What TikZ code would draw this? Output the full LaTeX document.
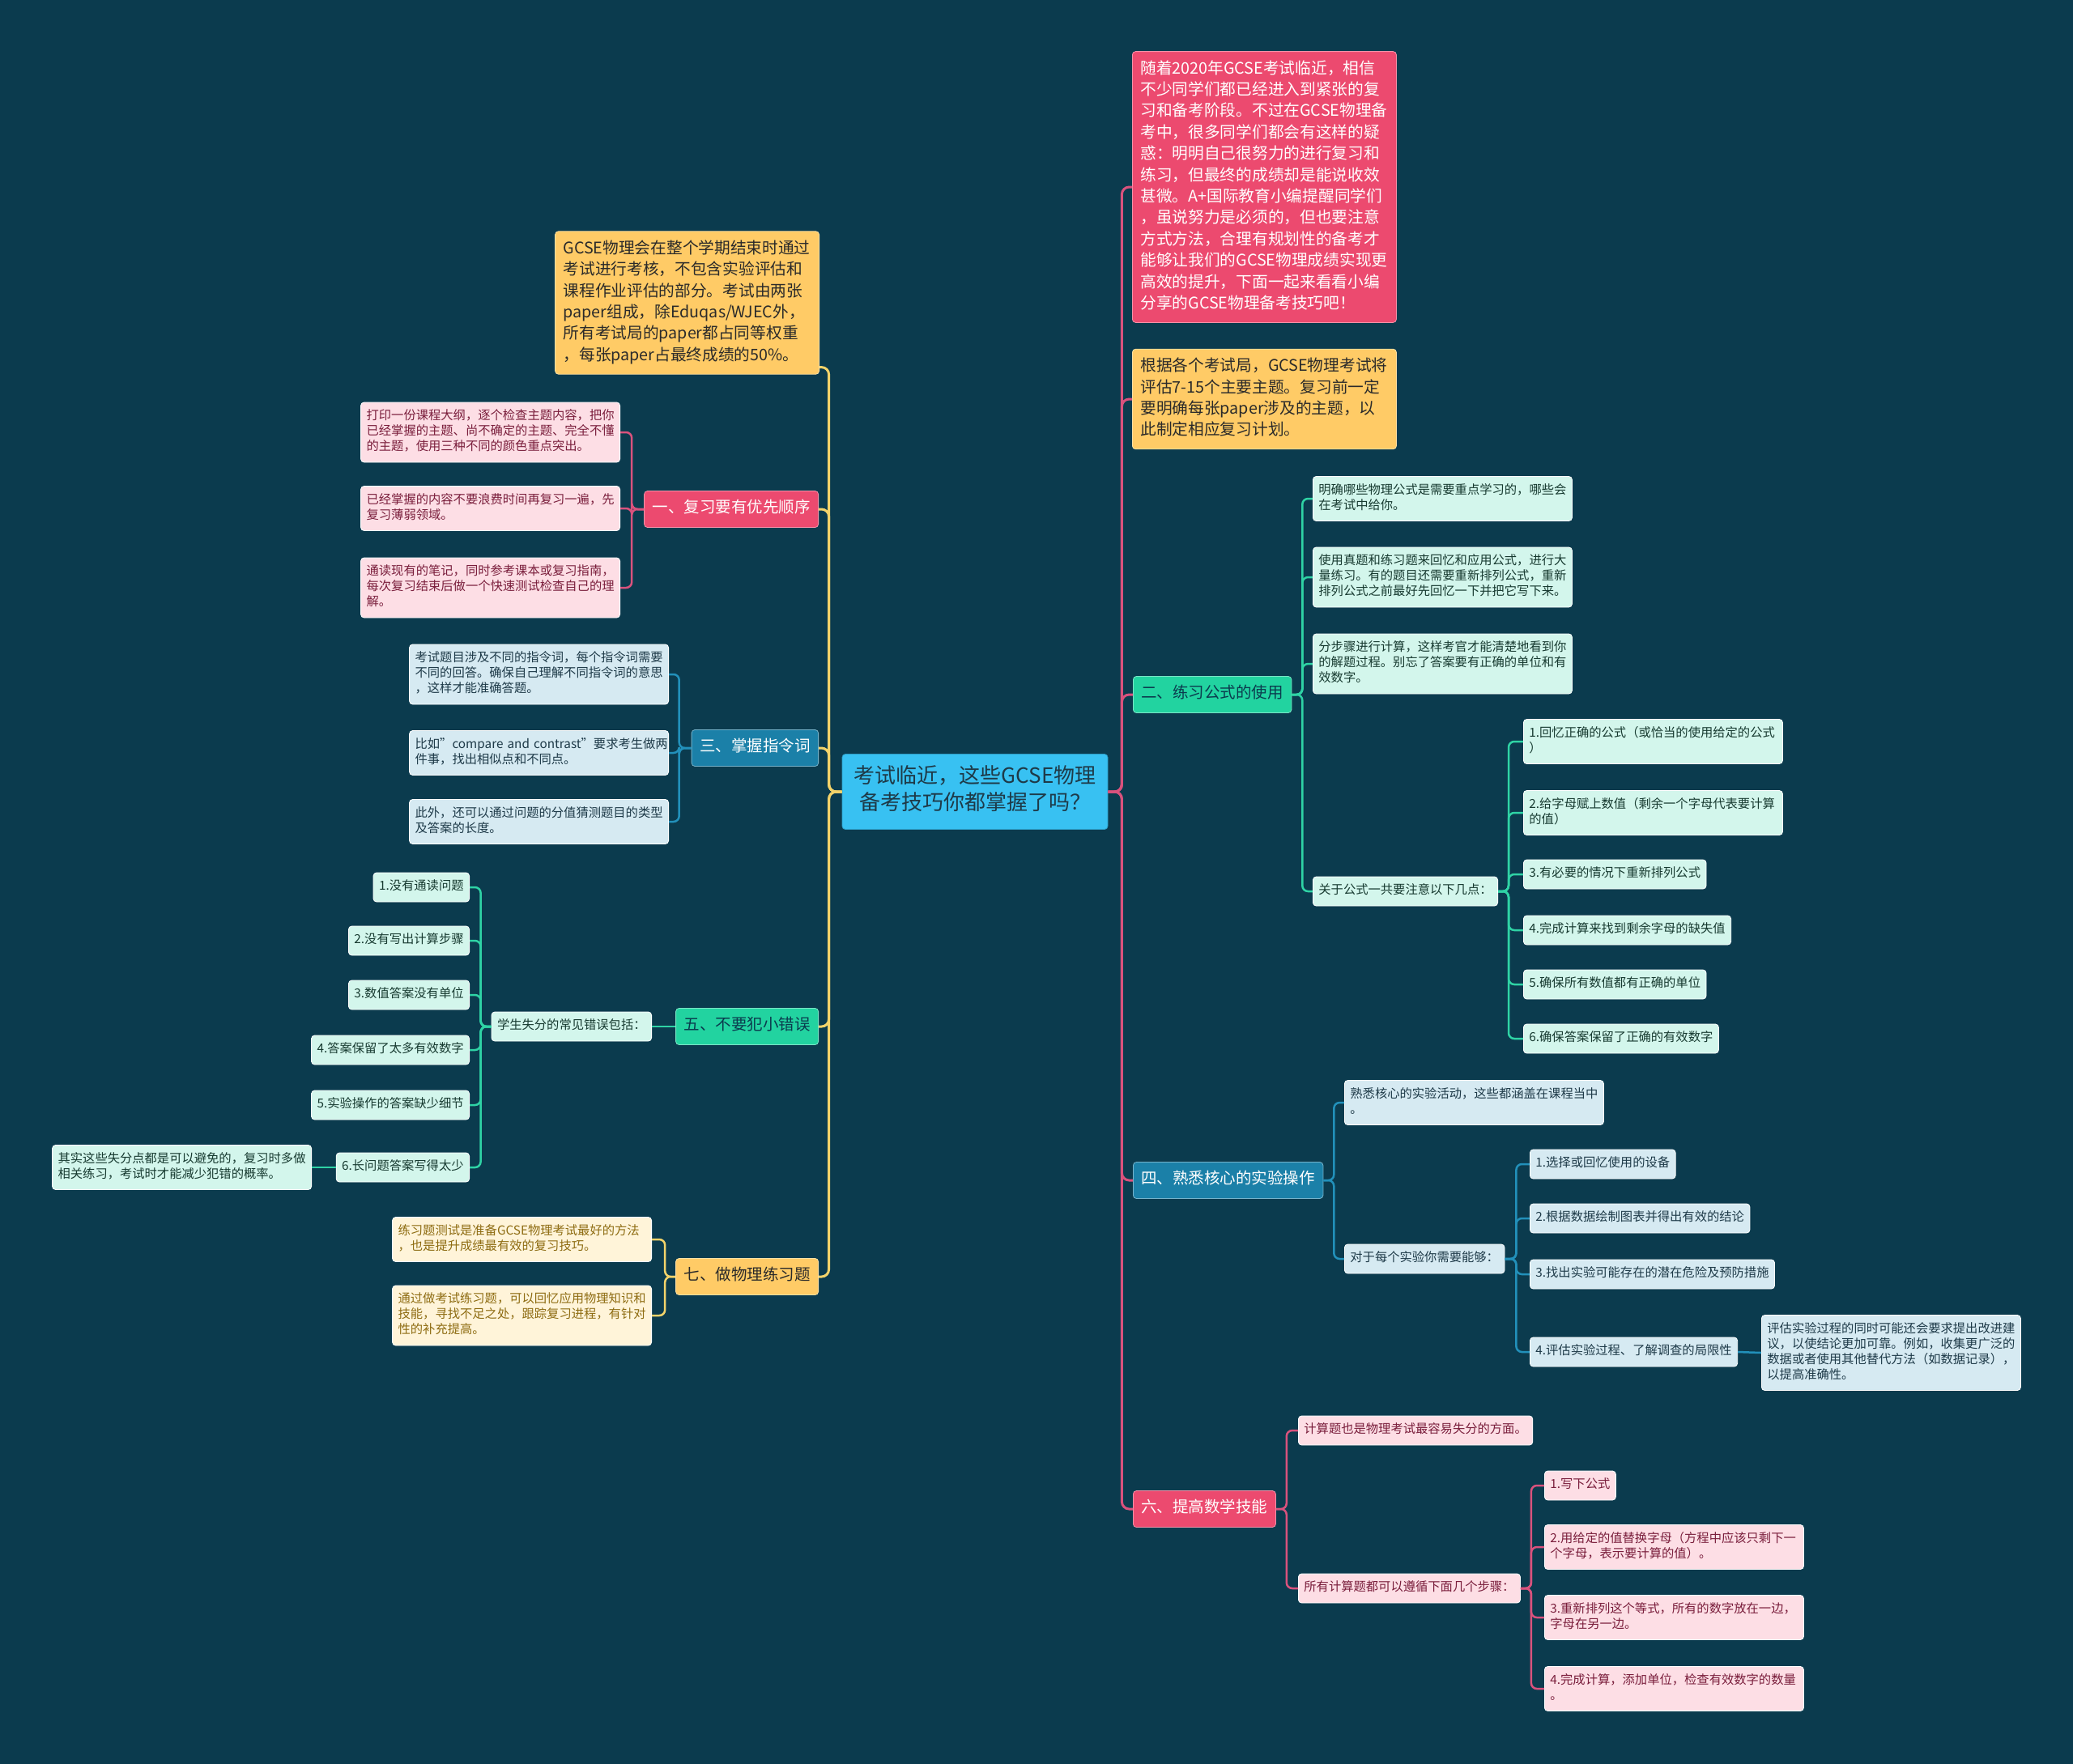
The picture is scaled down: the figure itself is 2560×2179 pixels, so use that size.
\documentclass[tikz,border=0pt]{standalone}
\usepackage{fontspec}
\setmainfont{Noto Sans CJK SC}
\usetikzlibrary{positioning}
\definecolor{hatter}{HTML}{0B3B4E}
\definecolor{sarga}{HTML}{FFCB66}
\definecolor{piros}{HTML}{EC4A6F}
\definecolor{kek}{HTML}{1B80A8}
\definecolor{zold}{HTML}{22D3A0}
\definecolor{egkek}{HTML}{38C1F2}
\definecolor{sotet}{HTML}{2A2A2A}
\definecolor{rozsa}{HTML}{FDDEE5}
\definecolor{rozsaszov}{HTML}{7A1E3C}
\definecolor{halvkek}{HTML}{D6EAF2}
\definecolor{halvkeksz}{HTML}{1E3A48}
\definecolor{menta}{HTML}{D3F6EC}
\definecolor{mentasz}{HTML}{173A30}
\definecolor{krem}{HTML}{FFF4D9}
\definecolor{kremsz}{HTML}{8E6C12}
\definecolor{vsarga}{HTML}{F3D36A}
\definecolor{vpiros}{HTML}{D9527D}
\definecolor{vkek}{HTML}{2290BA}
\definecolor{vzold}{HTML}{2FD3A5}
\tikzset{
  alap/.style={rounded corners=4pt,align=left,line width=0.8pt,
               execute at begin node=\strut,execute at end node=\strut},
  kozep/.style={alap,align=center,fill=egkek,draw=egkek!80!black,text=halvkeksz,
                minimum width=328pt,minimum height=93pt,font=\fontsize{26}{33}\selectfont},
  nagy/.style={alap,inner xsep=10pt,inner ysep=9pt,text width=306pt,
               font=\fontsize{19.7}{26.4}\selectfont},
  ag/.style={alap,inner xsep=10pt,inner ysep=10.5pt,font=\fontsize{19.5}{24}\selectfont},
  kicsi/.style={alap,inner xsep=7pt,inner ysep=8.5pt,font=\fontsize{15.3}{19}\selectfont},
  hosszu/.style={kicsi,text width=306pt},
  pag/.style={fill=piros,draw=white!40!piros,text=white},
  sag/.style={fill=sarga,draw=white!40!sarga,text=sotet},
  kag/.style={fill=kek,draw=white!40!kek,text=white},
  zag/.style={fill=zold,draw=white!40!zold,text=hatter},
  plev/.style={fill=rozsa,draw=white,text=rozsaszov},
  klev/.style={fill=halvkek,draw=white,text=halvkeksz},
  mlev/.style={fill=menta,draw=white,text=mentasz},
  clev/.style={fill=krem,draw=white,text=kremsz},
  torzs/.style={line width=3pt,rounded corners=9pt},
  kapocs/.style={line width=2.5pt,rounded corners=7pt},
}
\begin{document}
\begin{tikzpicture}[x=1pt,y=-1pt]
  \fill[hatter] (0,0) rectangle (2560,2179);
  % kozep
  \node[kozep] (k) at (1204,978) {考试临近，这些GCSE物理\\备考技巧你都掌握了吗？};
  % bal oldal
  \node[nagy,sag,anchor=east] (b0) at (1012,374) {GCSE物理会在整个学期结束时通过\\考试进行考核，不包含实验评估和\\课程作业评估的部分。考试由两张\\paper组成，除Eduqas/WJEC外，\\所有考试局的paper都占同等权重\\，每张paper占最终成绩的50\%。};
  \coordinate (b0c) at ([yshift=9pt]b0.south east);
  \node[ag,pag,anchor=east] (b1) at (1011,629) {一、复习要有优先顺序};
  \node[hosszu,plev,anchor=east] (b1a) at (766,534) {打印一份课程大纲，逐个检查主题内容，把你\\已经掌握的主题、尚不确定的主题、完全不懂\\的主题，使用三种不同的颜色重点突出。};
  \node[hosszu,plev,anchor=east] (b1b) at (766,628) {已经掌握的内容不要浪费时间再复习一遍，先\\复习薄弱领域。};
  \node[hosszu,plev,anchor=east] (b1c) at (766,726) {通读现有的笔记，同时参考课本或复习指南，\\每次复习结束后做一个快速测试检查自己的理\\解。};
  \node[ag,kag,anchor=east] (b2) at (1011,924) {三、掌握指令词};
  \node[hosszu,klev,anchor=east] (b2a) at (826,833) {考试题目涉及不同的指令词，每个指令词需要\\不同的回答。确保自己理解不同指令词的意思\\，这样才能准确答题。};
  \node[hosszu,klev,anchor=east] (b2b) at (826,930) {\mbox{比如\symbol{34}compare and contrast\symbol{34}要求考生做两}\\件事，找出相似点和不同点。};
  \node[hosszu,klev,anchor=east] (b2c) at (826,1015) {此外，还可以通过问题的分值猜测题目的类型\\及答案的长度。};
  \node[ag,zag,anchor=east] (b3) at (1011,1268) {五、不要犯小错误};
  \node[kicsi,mlev,anchor=east] (b3m) at (805,1268) {学生失分的常见错误包括：};
  \foreach \y/\t [count=\i] in {1096/1.没有通读问题,1162/2.没有写出计算步骤,1229/3.数值答案没有单位,
      1297/4.答案保留了太多有效数字,1365/5.实验操作的答案缺少细节,1442/6.长问题答案写得太少}
    \node[kicsi,mlev,anchor=east] (b3i\i) at (580,\y) {\t};
  \node[hosszu,mlev,anchor=east] (b3x) at (385,1442) {其实这些失分点都是可以避免的，复习时多做\\相关练习，考试时才能减少犯错的概率。};
  \node[ag,sag,anchor=east] (b4) at (1011,1577) {七、做物理练习题};
  \node[hosszu,clev,anchor=east] (b4a) at (805,1531) {练习题测试是准备GCSE物理考试最好的方法\\，也是提升成绩最有效的复习技巧。};
  \node[hosszu,clev,anchor=east] (b4b) at (805,1625) {通过做考试练习题，可以回忆应用物理知识和\\技能，寻找不足之处，跟踪复习进程，有针对\\性的补充提高。};
  % jobb oldal
  \node[nagy,pag,anchor=west] (j0) at (1398,231) {随着2020年GCSE考试临近，相信\\不少同学们都已经进入到紧张的复\\习和备考阶段。不过在GCSE物理备\\考中，很多同学们都会有这样的疑\\惑：明明自己很努力的进行复习和\\练习，但最终的成绩却是能说收效\\甚微。A+国际教育小编提醒同学们\\，虽说努力是必须的，但也要注意\\方式方法，合理有规划性的备考才\\能够让我们的GCSE物理成绩实现更\\高效的提升，下面一起来看看小编\\分享的GCSE物理备考技巧吧！};
  \node[nagy,sag,anchor=west] (j1) at (1398,493) {根据各个考试局，GCSE物理考试将\\评估7-15个主要主题。复习前一定\\要明确每张paper涉及的主题，以\\此制定相应复习计划。};
  \node[ag,zag,anchor=west] (j2) at (1399,858) {二、练习公式的使用};
  \node[hosszu,mlev,anchor=west] (j2a) at (1621,616) {明确哪些物理公式是需要重点学习的，哪些会\\在考试中给你。};
  \node[hosszu,mlev,anchor=west] (j2b) at (1621,713) {使用真题和练习题来回忆和应用公式，进行大\\量练习。有的题目还需要重新排列公式，重新\\排列公式之前最好先回忆一下并把它写下来。};
  \node[hosszu,mlev,anchor=west] (j2c) at (1621,820) {分步骤进行计算，这样考官才能清楚地看到你\\的解题过程。别忘了答案要有正确的单位和有\\效数字。};
  \node[kicsi,mlev,anchor=west] (j2d) at (1621,1101) {关于公式一共要注意以下几点：};
  \node[hosszu,mlev,anchor=west] (j2i1) at (1881,916) {1.回忆正确的公式（或恰当的使用给定的公式\\）};
  \node[hosszu,mlev,anchor=west] (j2i2) at (1881,1004) {2.给字母赋上数值（剩余一个字母代表要计算\\的值）};
  \node[kicsi,mlev,anchor=west] (j2i3) at (1881,1080) {3.有必要的情况下重新排列公式};
  \node[kicsi,mlev,anchor=west] (j2i4) at (1881,1149) {4.完成计算来找到剩余字母的缺失值};
  \node[kicsi,mlev,anchor=west] (j2i5) at (1881,1216) {5.确保所有数值都有正确的单位};
  \node[kicsi,mlev,anchor=west] (j2i6) at (1881,1283) {6.确保答案保留了正确的有效数字};
  \node[ag,kag,anchor=west] (j3) at (1399,1458) {四、熟悉核心的实验操作};
  \node[hosszu,klev,anchor=west] (j3a) at (1660,1362) {熟悉核心的实验活动，这些都涵盖在课程当中\\。};
  \node[kicsi,klev,anchor=west] (j3b) at (1660,1555) {对于每个实验你需要能够：};
  \foreach \y/\t [count=\i] in {1438/1.选择或回忆使用的设备,1505/2.根据数据绘制图表并得出有效的结论,
      1574/3.找出实验可能存在的潜在危险及预防措施,1670/4.评估实验过程、了解调查的局限性}
    \node[kicsi,klev,anchor=west] (j3i\i) at (1889,\y) {\t};
  \node[hosszu,klev,anchor=west] (j3x) at (2175,1671) {评估实验过程的同时可能还会要求提出改进建\\议，以使结论更加可靠。例如，收集更广泛的\\数据或者使用其他替代方法（如数据记录），\\以提高准确性。};
  \node[ag,pag,anchor=west] (j4) at (1399,1864) {六、提高数学技能};
  \node[kicsi,plev,anchor=west] (j4a) at (1603,1767) {计算题也是物理考试最容易失分的方面。};
  \node[kicsi,plev,anchor=west] (j4b) at (1603,1962) {所有计算题都可以遵循下面几个步骤：};
  \node[kicsi,plev,anchor=west] (j4i1) at (1907,1835) {1.写下公式};
  \node[hosszu,plev,anchor=west] (j4i2) at (1907,1911) {2.用给定的值替换字母（方程中应该只剩下一\\个字母，表示要计算的值）。};
  \node[hosszu,plev,anchor=west] (j4i3) at (1907,1998) {3.重新排列这个等式，所有的数字放在一边，\\字母在另一边。};
  \node[hosszu,plev,anchor=west] (j4i4) at (1907,2086) {4.完成计算，添加单位，检查有效数字的数量\\。};
  % torzsek
  \draw[torzs,vsarga] (k.west) -- ++(-16,0) |- (b0c);
  \foreach \n in {b1,b2,b3,b4}
    \draw[torzs,vsarga] (k.west) -- ++(-16,0) |- (\n.east);
  \foreach \n in {j0,j1,j2,j3,j4}
    \draw[torzs,vpiros] (k.east) -- ++(17,0) |- (\n.west);
  % kapcsok bal
  \foreach \n in {b1a,b1b,b1c}
    \draw[kapocs,vpiros] (b1.west) -- ++(-15,0) |- (\n.east);
  \foreach \n in {b2a,b2b,b2c}
    \draw[kapocs,vkek] (b2.west) -- ++(-15,0) |- (\n.east);
  \draw[kapocs,vzold] (b3.west) -- (b3m.east);
  \foreach \i in {1,...,6}
    \draw[kapocs,vzold] (b3m.west) -- ++(-13,0) |- (b3i\i.east);
  \draw[kapocs,vzold] (b3i6.west) -- (b3x.east);
  \foreach \n in {b4a,b4b}
    \draw[kapocs,vsarga] (b4.west) -- ++(-13,0) |- (\n.east);
  % kapcsok jobb
  \foreach \n in {j2a,j2b,j2c,j2d}
    \draw[kapocs,vzold] (j2.east) -- ++(13,0) |- (\n.west);
  \foreach \i in {1,...,6}
    \draw[kapocs,vzold] (j2d.east) -- ++(13,0) |- (j2i\i.west);
  \foreach \n in {j3a,j3b}
    \draw[kapocs,vkek] (j3.east) -- ++(13,0) |- (\n.west);
  \foreach \i in {1,...,4}
    \draw[kapocs,vkek] (j3b.east) -- ++(14,0) |- (j3i\i.west);
  \draw[kapocs,vkek] (j3i4.east) -- (j3x.west);
  \foreach \n in {j4a,j4b}
    \draw[kapocs,vpiros] (j4.east) -- ++(13,0) |- (\n.west);
  \foreach \i in {1,...,4}
    \draw[kapocs,vpiros] (j4b.east) -- ++(13,0) |- (j4i\i.west);
\end{tikzpicture}
\end{document}
